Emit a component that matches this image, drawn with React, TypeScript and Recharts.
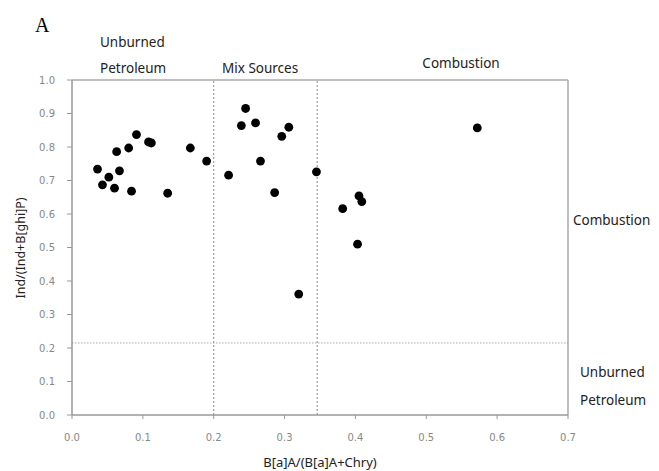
import React from "react";
import {
  ScatterChart,
  Scatter,
  XAxis,
  YAxis,
  ReferenceLine,
} from "recharts";

const xRatio = [
  0.036, 0.043, 0.052, 0.06, 0.063, 0.067, 0.08, 0.084, 0.091, 0.108, 0.112,
  0.135, 0.167, 0.19, 0.221, 0.239, 0.245, 0.259, 0.266, 0.286, 0.296, 0.306,
  0.32, 0.345, 0.382, 0.405, 0.409, 0.403, 0.572,
];
const yRatio = [
  0.734, 0.687, 0.71, 0.677, 0.786, 0.729, 0.797, 0.668, 0.837, 0.815, 0.812,
  0.662, 0.797, 0.758, 0.716, 0.864, 0.915, 0.872, 0.758, 0.664, 0.832, 0.859,
  0.361, 0.726, 0.616, 0.654, 0.637, 0.51, 0.857,
];
const xTicks = [0, 0.1, 0.2, 0.3, 0.4, 0.5, 0.6, 0.7];
const yTicks = [0, 0.1, 0.2, 0.3, 0.4, 0.5, 0.6, 0.7, 0.8, 0.9, 1.0];
const xThresholds = [0.2, 0.346];
const yThreshold = 0.215;

const data = xRatio.map((x, i) => ({ x, y: yRatio[i] }));

const W = 659;
const H = 471;
const labelFont = "'Noto Sans', sans-serif";
const tickStyle = { fontSize: 10, fill: "#888", fontFamily: "'DejaVu Sans', sans-serif" };

const Dot = (props: any) => {
  const { cx, cy } = props;
  return <circle cx={cx} cy={cy} r={4.4} fill="#000" />;
};

export default function App() {
  return (
    <div style={{ position: "absolute", left: 0, top: 0, width: W, height: H, background: "#fff" }}>
      <ScatterChart
        width={W}
        height={H}
        margin={{ top: 80, right: 91, bottom: 0, left: 0 }}
      >
        <XAxis
          type="number"
          dataKey="x"
          domain={[0, 0.7]}
          ticks={xTicks}
          tickFormatter={(v: number) => v.toFixed(1)}
          tick={tickStyle}
          tickSize={4}
          tickMargin={15}
          axisLine={{ stroke: "#999", strokeWidth: 1.5 }}
          tickLine={{ stroke: "#999" }}
          height={56}
        />
        <YAxis
          type="number"
          dataKey="y"
          domain={[0, 1]}
          ticks={yTicks}
          tickFormatter={(v: number) => v.toFixed(1)}
          tick={tickStyle}
          tickSize={5}
          tickMargin={12}
          axisLine={{ stroke: "#999", strokeWidth: 1.5 }}
          tickLine={{ stroke: "#999" }}
          width={72}
        />
        <ReferenceLine y={1} stroke="#aaa" strokeWidth={1.5} />
        <ReferenceLine x={0.7} stroke="#aaa" strokeWidth={1.5} />
        {xThresholds.map((t) => (
          <ReferenceLine key={t} x={t} stroke="#888" strokeDasharray="2 2" strokeWidth={1} />
        ))}
        <ReferenceLine y={yThreshold} stroke="#aaa" strokeDasharray="1.5 1.5" strokeWidth={1} />
        <Scatter data={data} shape={Dot} isAnimationActive={false} />
      </ScatterChart>
      <svg
        width={W}
        height={H}
        style={{ position: "absolute", left: 0, top: 0, pointerEvents: "none" }}
      >
        <text x={35} y={32} fontFamily="'Liberation Serif', serif" fontSize={20} fill="#000">A</text>
        <g fontFamily={labelFont} fontSize={13.5} fill="#222">
          <text x={100} y={47}>Unburned</text>
          <text x={100} y={73}>Petroleum</text>
          <text x={222} y={73}>Mix Sources</text>
          <text x={461} y={68} textAnchor="middle">Combustion</text>
          <text x={573} y={225}>Combustion</text>
          <text x={580} y={377}>Unburned</text>
          <text x={580} y={405}>Petroleum</text>
        </g>
        <text
          x={320}
          y={467}
          textAnchor="middle"
          fontFamily={labelFont}
          fontSize={13}
          fill="#222"
        >
          B[a]A/(B[a]A+Chry)
        </text>
        <text
          transform="translate(25,248) rotate(-90)"
          textAnchor="middle"
          fontFamily={labelFont}
          fontSize={12.5}
          fill="#222"
        >
          Ind/(Ind+B[ghi]P)
        </text>
      </svg>
    </div>
  );
}
